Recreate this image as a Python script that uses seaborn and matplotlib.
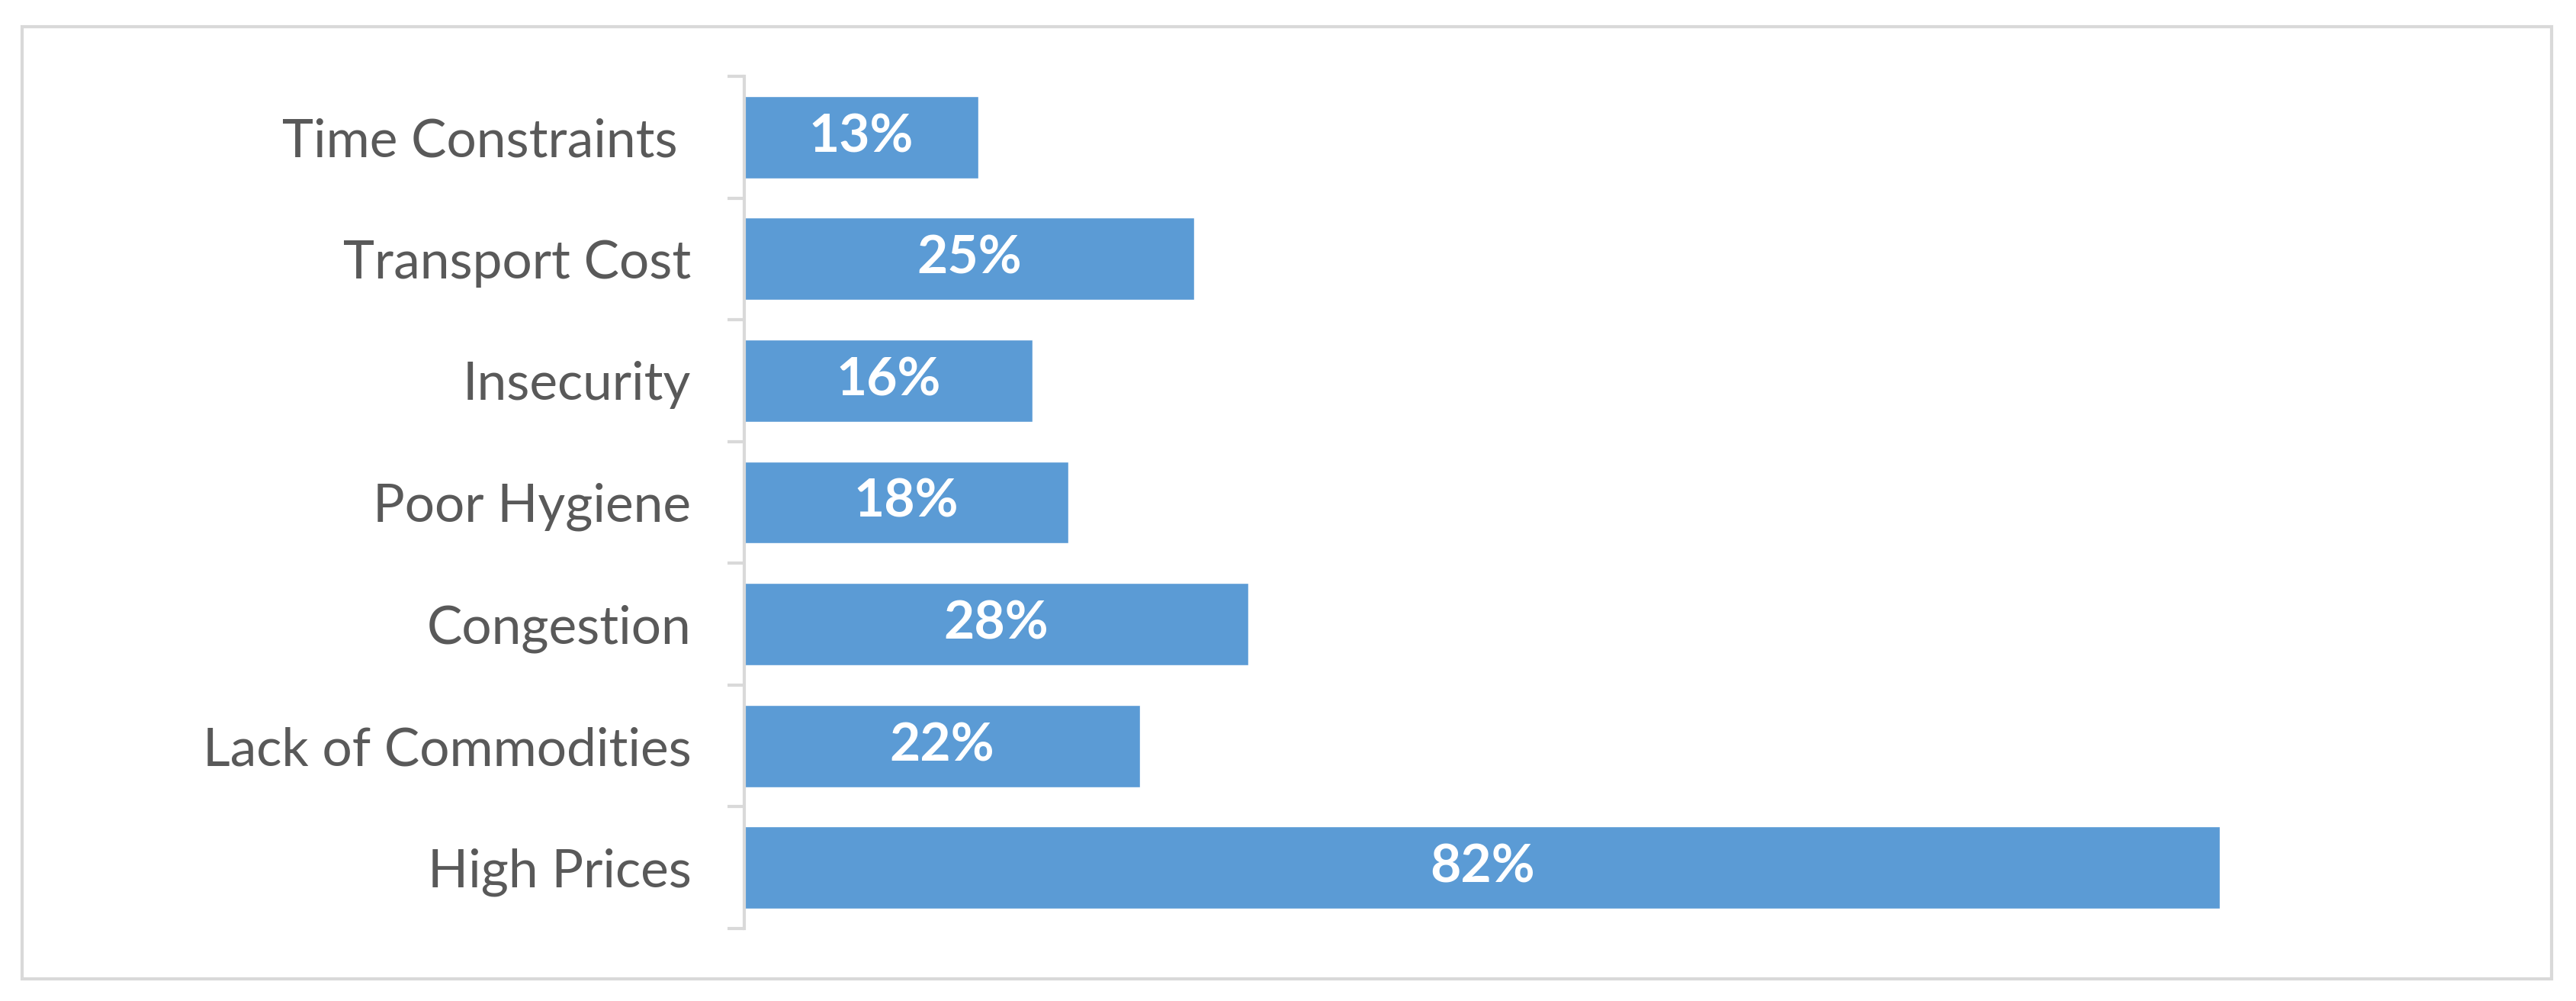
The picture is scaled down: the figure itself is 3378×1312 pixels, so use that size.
import matplotlib
matplotlib.use("Agg")
import matplotlib.pyplot as plt
import pandas as pd
import seaborn as sns
from matplotlib.patches import Rectangle

categories = [
    "Time Constraints ",
    "Transport Cost",
    "Insecurity",
    "Poor Hygiene",
    "Congestion",
    "Lack of Commodities",
    "High Prices",
]
values = [13, 25, 16, 18, 28, 22, 82]

BAR_COLOR = "#5B9BD5"
GRID_GRAY = "#D9D9D9"
TEXT_GRAY = "#595959"

sns.set_theme(style="white")
plt.rcParams["font.family"] = ["Lato", "DejaVu Sans"]

df = pd.DataFrame({"problem": categories, "share": values})

fig = plt.figure(figsize=(33.78, 13.12), dpi=100)
ax = fig.add_axes([0.2889, 0.0724, 0.6987, 0.8514])

sns.barplot(data=df, y="problem", x="share", orient="h", color=BAR_COLOR,
            width=0.675, saturation=1, ax=ax)

ax.set_xlim(0, 100)
ax.set_ylim(len(categories) - 0.5, -0.5)
ax.set_xlabel("")
ax.set_ylabel("")
ax.set_xticks([])

# category labels, no tick at the label itself
ax.tick_params(axis="y", which="major", left=True, length=0, pad=50,
               labelsize=50, labelcolor=TEXT_GRAY)
# tick marks between categories
ax.set_yticks([i - 0.5 for i in range(len(categories) + 1)], minor=True)
ax.tick_params(axis="y", which="minor", left=True, length=16, width=3,
               color=GRID_GRAY, direction="out")

for side in ["top", "right", "bottom"]:
    ax.spines[side].set_visible(False)
ax.spines["left"].set_color(GRID_GRAY)
ax.spines["left"].set_linewidth(3)

for container in ax.containers:
    ax.bar_label(container, labels=[f"{v}%" for v in values], label_type="center",
                 color="white", fontweight="bold", fontsize=50)

# outer chart border
fig.patches.append(Rectangle((29 / 3378, 1 - 1283 / 1312), (3346 - 29) / 3378,
                             (1283 - 35) / 1312, transform=fig.transFigure,
                             fill=False, edgecolor=GRID_GRAY, linewidth=3))

fig.savefig("out.png", dpi=100, facecolor="white")
